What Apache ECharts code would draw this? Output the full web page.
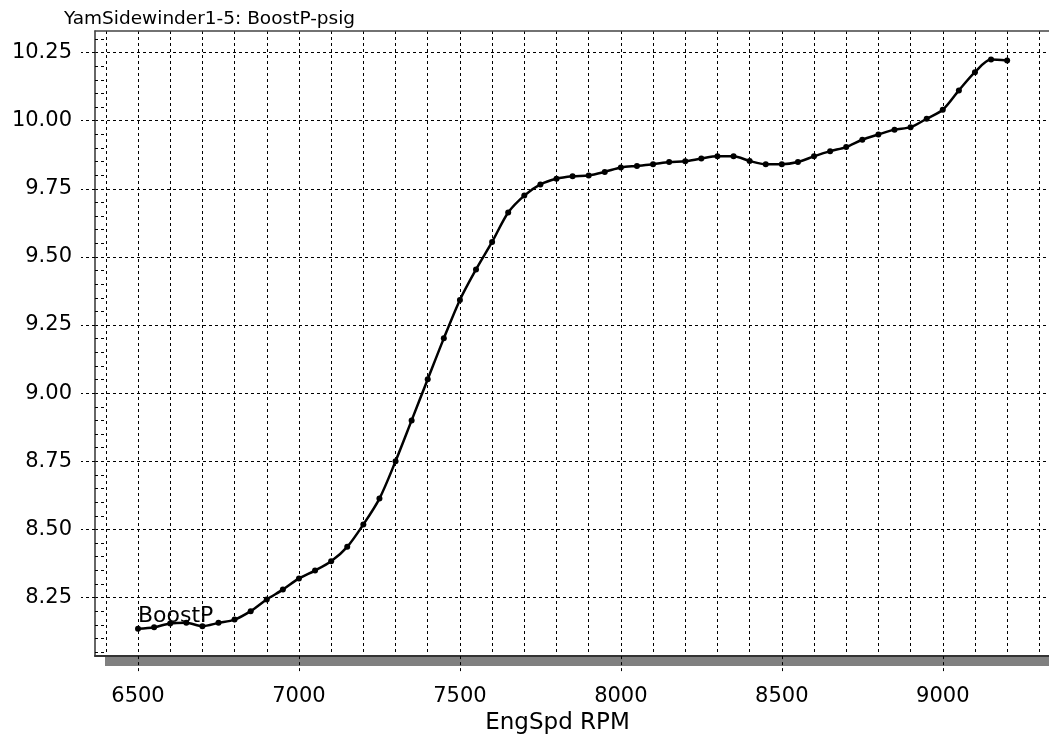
<!DOCTYPE html>
<html>
<head>
<meta charset="utf-8">
<script src="https://cdn.jsdelivr.net/npm/echarts@6/dist/echarts.min.js"></script>
<style>html,body{margin:0;padding:0;background:#fff;}#c{width:1049px;height:740px;}</style>
</head>
<body>
<div id="c"></div>
<script>
const titleText = 'YamSidewinder1-5: BoostP-psig';
const xName = 'EngSpd RPM';
const seriesName = 'BoostP';
const rpm = [6500, 6550, 6600, 6650, 6700, 6750, 6800, 6850, 6900, 6950,
  7000, 7050, 7100, 7150, 7200, 7250, 7300, 7350, 7400, 7450,
  7500, 7550, 7600, 7650, 7700, 7750, 7800, 7850, 7900, 7950,
  8000, 8050, 8100, 8150, 8200, 8250, 8300, 8350, 8400, 8450,
  8500, 8550, 8600, 8650, 8700, 8750, 8800, 8850, 8900, 8950,
  9000, 9050, 9100, 9150, 9200];
const boost = [8.135, 8.141, 8.155, 8.157, 8.145, 8.157, 8.169, 8.200, 8.243, 8.279,
  8.320, 8.349, 8.383, 8.436, 8.518, 8.613, 8.750, 8.900, 9.051, 9.201,
  9.342, 9.454, 9.555, 9.663, 9.725, 9.766, 9.787, 9.796, 9.799, 9.812,
  9.828, 9.834, 9.840, 9.848, 9.851, 9.861, 9.869, 9.869, 9.852, 9.840,
  9.840, 9.848, 9.869, 9.888, 9.903, 9.930, 9.949, 9.967, 9.976, 10.007,
  10.040, 10.111, 10.178, 10.224, 10.221];
const xTickLabels = [6500, 7000, 7500, 8000, 8500, 9000];
const xGrid = [6400, 6500, 6600, 6700, 6800, 6900, 7000, 7100, 7200, 7300, 7400, 7500,
  7600, 7700, 7800, 7900, 8000, 8100, 8200, 8300, 8400, 8500, 8600, 8700, 8800,
  8900, 9000, 9100, 9200, 9300];
const yTickLabels = [8.25, 8.50, 8.75, 9.00, 9.25, 9.50, 9.75, 10.00, 10.25];
const yMinor = [8.05, 8.10, 8.15, 8.20, 8.30, 8.35, 8.40, 8.45, 8.55, 8.60, 8.65, 8.70,
  8.80, 8.85, 8.90, 8.95, 9.05, 9.10, 9.15, 9.20, 9.30, 9.35, 9.40, 9.45,
  9.55, 9.60, 9.65, 9.70, 9.80, 9.85, 9.90, 9.95, 10.05, 10.10, 10.15, 10.20, 10.30];
const xMin = 6366.4, xMax = 9330, yMin = 8.035, yMax = 10.329;

const FONT = 'DejaVu Sans';
const dash = [3, 3];
const data = rpm.map((r, i) => [r, boost[i]]);
data[0] = {
  value: data[0],
  label: { show: true, formatter: '{a}', position: [3, -21], fontSize: 22, fontFamily: FONT, color: '#000' }
};

const chart = echarts.init(document.getElementById('c'), null, { renderer: 'canvas' });
chart.setOption({
  animation: false,
  backgroundColor: '#fff',
  title: {
    text: titleText, left: 59, top: 5,
    textStyle: { fontSize: 18.5, fontWeight: 'normal', fontFamily: FONT, color: '#000' }
  },
  grid: {
    left: 95, top: 31, right: 0, bottom: 82,
    show: true, backgroundColor: '#fff', borderWidth: 0,
    shadowColor: '#808080', shadowOffsetX: 10, shadowOffsetY: 10, shadowBlur: 0
  },
  xAxis: [{
    type: 'value', min: xMin, max: xMax, position: 'bottom',
    axisLine: { show: true, onZero: false, lineStyle: { color: '#333', width: 2 } },
    axisTick: { show: false, customValues: xGrid },
    axisLabel: { show: false },
    splitLine: { show: true, lineStyle: { color: '#000', width: 1, type: dash } }
  }, {
    type: 'value', min: xMin, max: xMax, position: 'bottom', offset: 0,
    axisLine: { show: false, onZero: false },
    axisTick: { show: true, customValues: xTickLabels, length: 18, lineStyle: { color: '#000', width: 1, type: dash } },
    axisLabel: { show: true, customValues: xTickLabels, margin: 30, fontSize: 21, fontFamily: FONT, color: '#000',
      formatter: v => String(Math.round(v)) },
    splitLine: { show: false },
    name: xName, nameLocation: 'middle', nameGap: 55,
    nameTextStyle: { fontSize: 23, fontFamily: FONT, color: '#000', padding: [0, 29, 0, 0] }
  }, {
    type: 'value', min: xMin, max: xMax, position: 'top', offset: 0,
    axisLine: { show: true, onZero: false, lineStyle: { color: '#444', width: 1.5 } },
    axisTick: { show: false }, axisLabel: { show: false }, splitLine: { show: false }
  }],
  yAxis: [{
    type: 'value', min: yMin, max: yMax, position: 'left',
    axisLine: { show: true, onZero: false, lineStyle: { color: '#333', width: 1.5 } },
    axisTick: { show: true, customValues: yTickLabels, length: 14, lineStyle: { color: '#000', width: 1, type: dash } },
    axisLabel: { show: true, customValues: yTickLabels, margin: 23, fontSize: 21, fontFamily: FONT, color: '#000',
      formatter: v => Number(v).toFixed(2) },
    splitLine: { show: true, lineStyle: { color: '#000', width: 1, type: dash } }
  }, {
    type: 'value', min: yMin, max: yMax, position: 'left', offset: 0,
    axisLine: { show: false, onZero: false },
    axisTick: { show: true, inside: true, customValues: yMinor, length: 10, lineStyle: { color: '#000', width: 1, type: dash } },
    axisLabel: { show: false },
    splitLine: { show: false }
  }],
  series: [{
    name: seriesName, type: 'line', xAxisIndex: 0, yAxisIndex: 0,
    data: data, smooth: 0.3,
    symbol: 'circle', symbolSize: 6, showAllSymbol: true,
    itemStyle: { color: '#000' },
    lineStyle: { color: '#000', width: 2.5 },
    z: 5
  }]
});
</script>
</body>
</html>
